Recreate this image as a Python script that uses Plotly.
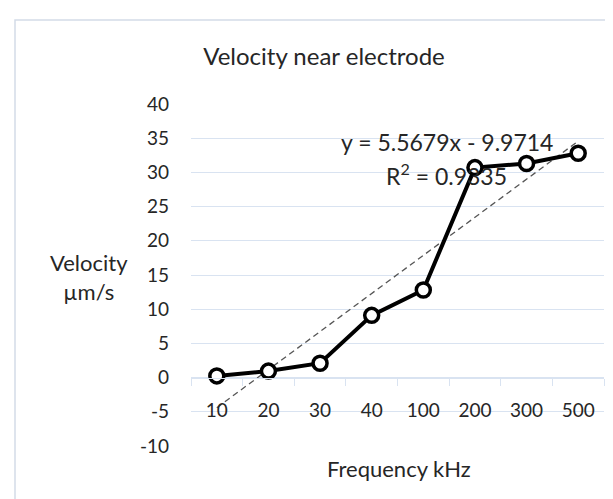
import plotly.graph_objects as go

# ---- data ----
frequency_khz = ["10", "20", "30", "40", "100", "200", "300", "500"]
velocity_um_s = [0.25, 0.95, 2.1, 9.1, 12.8, 30.7, 31.3, 32.8]
trend_slope = 5.5679
trend_intercept = -9.9714
y_tick_values = [-10, -5, 0, 5, 10, 15, 20, 25, 30, 35, 40]
y_tick_labels = ["-10", "-5", "0", "5", "10", "15", "20", "25", "30", "35", "40"]

# linear trendline evaluated at category index 1..n (as the chart's equation defines it)
trend_y = [trend_slope * (i + 1) + trend_intercept for i in range(len(frequency_khz))]

W, H = 613, 499
ML, MR, MT, MB = 183, 17, 96, 61
PW, PH = W - ML - MR, H - MT - MB

def px_x(p):
    return (p - ML) / PW

def px_y(p):
    return (H - MB - p) / PH

GRID = "#d9e3f1"
TXT = "#262626"
FONT = "Lato"

fig = go.Figure()
fig.add_trace(go.Scatter(
    x=frequency_khz, y=trend_y, mode="lines",
    line=dict(color="#555555", width=1.3, dash="6px,4px"),
    hoverinfo="skip", showlegend=False,
))
fig.add_trace(go.Scatter(
    x=frequency_khz, y=velocity_um_s, mode="lines+markers",
    line=dict(color="black", width=4),
    marker=dict(symbol="circle", size=14, color="white",
                line=dict(color="black", width=3.5)),
    showlegend=False,
))

fig.update_layout(
    width=W, height=H,
    margin=dict(l=ML, r=MR, t=MT, b=MB, pad=0),
    paper_bgcolor="white", plot_bgcolor="white",
    font=dict(family=FONT, color=TXT, size=18),
    title=dict(text="Velocity near electrode", x=316 / W, xanchor="center",
               y=1 - 49 / H, yanchor="middle", xref="container",
               font=dict(size=24, color=TXT, family=FONT)),
    xaxis=dict(
        type="category", range=[-0.5, len(frequency_khz) - 0.5],
        anchor="free", position=0.2,
        showline=True, linecolor=GRID, linewidth=1.2,
        ticks="outside", tickson="boundaries", ticklen=7, tickcolor=GRID, tickwidth=1.2,
        showgrid=False, tickfont=dict(size=19, color=TXT), ticklabelstandoff=15,
        fixedrange=True,
    ),
    yaxis=dict(
        range=[-10, 40], tickvals=y_tick_values, ticktext=y_tick_labels,
        showgrid=True, gridcolor=GRID, gridwidth=1.2,
        zeroline=False, showline=False, ticks="",
        tickfont=dict(size=19, color=TXT), ticklabelstandoff=21,
        fixedrange=True,
    ),
    annotations=[
        dict(text="y = 5.5679x - 9.9714", xref="paper", yref="paper",
             x=px_x(439), y=px_y(134), xanchor="center", yanchor="middle",
             showarrow=False, font=dict(size=23, color=TXT)),
        dict(text="R<sup>2</sup> = 0.9335", xref="paper", yref="paper",
             x=px_x(438), y=px_y(166), xanchor="center", yanchor="middle",
             showarrow=False, font=dict(size=23, color=TXT)),
        dict(text="Velocity<br>µm/s", xref="paper", yref="paper",
             x=px_x(81), y=px_y(269), xanchor="center", yanchor="middle",
             showarrow=False, font=dict(size=22, color=TXT)),
        dict(text="Frequency kHz", xref="paper", yref="paper",
             x=px_x(391), y=px_y(460), xanchor="center", yanchor="middle",
             showarrow=False, font=dict(size=22, color=TXT)),
    ],
    shapes=[
        dict(type="rect", xref="paper", yref="paper",
             x0=px_x(7), x1=px_x(640), y0=px_y(530), y1=px_y(12),
             line=dict(color="#d3dbe8", width=1.5), fillcolor="rgba(0,0,0,0)",
             layer="below"),
    ],
)

fig.write_html("out.html")
